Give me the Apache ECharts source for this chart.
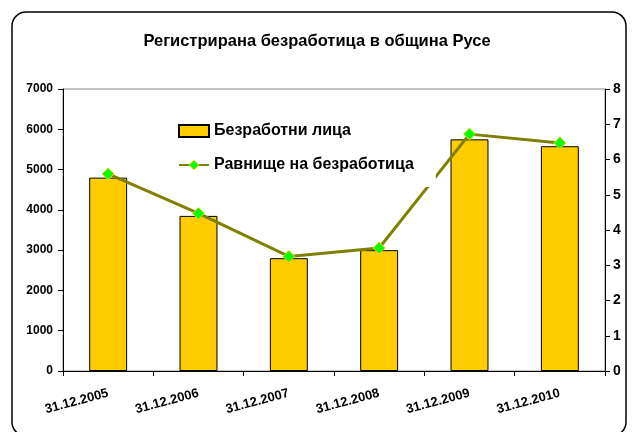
<!DOCTYPE html>
<html>
<head>
<meta charset="utf-8">
<script src="https://cdn.jsdelivr.net/npm/echarts@6/dist/echarts.min.js"></script>
<style>
  html, body { margin: 0; padding: 0; background: #fff; }
  #chart { width: 634px; height: 432px; }
</style>
</head>
<body>
<div id="chart"></div>
<script>
var categories = ['31.12.2005', '31.12.2006', '31.12.2007', '31.12.2008', '31.12.2009', '31.12.2010'];
var unemployed = [4800, 3850, 2800, 3000, 5750, 5580];
var rate = [5.59, 4.47, 3.25, 3.49, 6.72, 6.47];

var chart = echarts.init(document.getElementById('chart'));
var font = 'Liberation Sans, Arial, sans-serif';

option = {
    animation: false,
    textStyle: { fontFamily: font },
    title: {
        text: 'Регистрирана безработица в община Русе',
        left: 'center',
        top: 28,
        textStyle: { fontSize: 16.5, fontWeight: 'bold', color: '#000', fontFamily: font }
    },
    graphic: [{
        type: 'rect',
        shape: { x: 12, y: 12, width: 614, height: 424, r: 14 },
        style: { fill: 'none', stroke: '#000', lineWidth: 1.5 },
        z: 100
    }],
    legend: {
        orient: 'vertical',
        left: 170,
        top: 116,
        padding: [7, 22, 14, 8],
        backgroundColor: '#fff',
        z: 10,
        itemWidth: 30,
        itemHeight: 12,
        itemGap: 18,
        textStyle: { fontSize: 16, fontWeight: 'bold', color: '#000', fontFamily: font },
        data: [
            { name: 'Безработни лица', icon: 'rect' },
            { name: 'Равнище на безработица', itemStyle: { color: '#00ff00', borderColor: '#ffcc00', borderWidth: 1 } }
        ]
    },
    grid: {
        left: 63, right: 29, top: 89, bottom: 61,
        show: true, borderColor: '#888', borderWidth: 1
    },
    xAxis: {
        type: 'category',
        data: categories,
        axisLine: { lineStyle: { color: '#000', width: 1 } },
        axisTick: { show: true, length: 5, lineStyle: { color: '#000' } },
        axisLabel: { rotate: 15, fontSize: 13, fontWeight: 'bold', color: '#000', margin: 22 }
    },
    yAxis: [{
        type: 'value',
        min: 0, max: 7000, interval: 1000,
        axisLine: { show: true, lineStyle: { color: '#000' } },
        axisTick: { show: true, length: 5, lineStyle: { color: '#000' } },
        splitLine: { show: false },
        axisLabel: {
            fontSize: 12, fontWeight: 'bold', color: '#000', margin: 10,
            formatter: function (v) { return String(v); }
        }
    }, {
        type: 'value',
        min: 0, max: 8, interval: 1,
        axisLine: { show: true, lineStyle: { color: '#000' } },
        axisTick: { show: true, length: 5, lineStyle: { color: '#000' } },
        splitLine: { show: false },
        axisLabel: { fontSize: 14, fontWeight: 'bold', color: '#000', margin: 8 }
    }],
    series: [{
        name: 'Безработни лица',
        type: 'bar',
        data: unemployed,
        barWidth: '42%',
        itemStyle: { color: '#ffcc00', borderColor: '#000', borderWidth: 1 },
        z: 2
    }, {
        name: 'Равнище на безработица',
        type: 'line',
        yAxisIndex: 1,
        data: rate,
        symbol: 'diamond',
        symbolSize: 12,
        lineStyle: { color: '#808000', width: 3 },
        itemStyle: { color: '#00ff00', borderColor: '#ffcc00', borderWidth: 1 },
        z: 3
    }]
};
chart.setOption(option);
</script>
</body>
</html>
